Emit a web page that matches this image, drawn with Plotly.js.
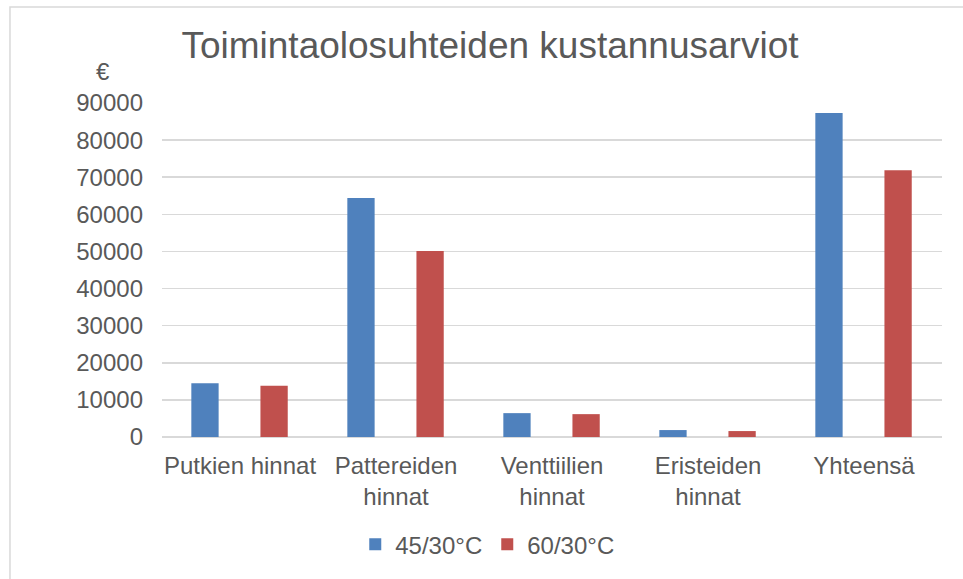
<!DOCTYPE html>
<html>
<head>
<meta charset="utf-8">
<script src="https://cdn.plot.ly/plotly-3.0.1.min.js"></script>
<style>html,body{margin:0;padding:0;background:#fff;}#chart{width:963px;height:579px;}</style>
</head>
<body>
<div id="chart"></div>
<script>
const categories = ["Putkien hinnat", "Pattereiden<br>hinnat", "Venttiilien<br>hinnat", "Eristeiden<br>hinnat", "Yhteensä"];
const seriesNames = ["45/30°C", "60/30°C"];
const values4530 = [14500, 64400, 6430, 1870, 87300];
const values6030 = [13800, 50100, 6160, 1600, 71900];
const yTicks = [0, 10000, 20000, 30000, 40000, 50000, 60000, 70000, 80000, 90000];
const titleText = "Toimintaolosuhteiden kustannusarviot";
const unitLabel = "€";

const FONT = "Liberation Sans, Arial, sans-serif";
const TXT = "#595959";

const traces = [
  {type: "bar", name: seriesNames[0], x: categories, y: values4530,
   offset: -0.312, width: 0.175, marker: {color: "#4F81BD", opacity: 1, line: {width: 0}}},
  {type: "bar", name: seriesNames[1], x: categories, y: values6030,
   offset: 0.131, width: 0.175, marker: {color: "#C0504D", opacity: 1, line: {width: 0}}}
];

const layout = {
  width: 963, height: 579,
  margin: {l: 162, r: 21, t: 103, b: 142},
  paper_bgcolor: "#ffffff", plot_bgcolor: "#ffffff",
  font: {family: FONT, color: TXT, size: 24},
  barmode: "overlay",
  showlegend: true,
  title: {text: titleText, font: {family: FONT, size: 37, color: TXT},
          xref: "paper", x: 0.4205, xanchor: "center",
          yref: "container", y: 0.922, yanchor: "middle"},
  xaxis: {type: "category", showgrid: false, zeroline: false, showline: false,
          ticks: "", tickfont: {size: 24, color: TXT, family: FONT},
          ticklabelstandoff: 12, fixedrange: true},
  yaxis: {range: [0, 90000], tickvals: yTicks, ticktext: yTicks.map(String),
          showgrid: true, gridcolor: "#D9D9D9", gridwidth: 1.5,
          zeroline: true, zerolinecolor: "#D9D9D9", zerolinewidth: 1.5,
          showline: false, ticks: "", tickfont: {size: 24, color: TXT, family: FONT},
          ticklabelstandoff: 18, fixedrange: true},
  legend: {orientation: "h", x: 0.4170, xanchor: "center", y: -0.3225, yanchor: "middle",
           font: {size: 24, color: TXT, family: FONT}, itemwidth: 30, traceorder: "normal"},
  annotations: [
    {text: unitLabel, xref: "paper", yref: "paper", x: -0.0756, y: 1.0947,
     xanchor: "center", yanchor: "middle", showarrow: false,
     font: {size: 24, color: TXT, family: FONT}}
  ],
  shapes: [
    {type: "rect", xref: "paper", yref: "paper", x0: -0.1949, y0: 1.2875, x1: 1.036, y1: -0.456,
     line: {color: "#D9D9D9", width: 1.5}, fillcolor: "rgba(0,0,0,0)", layer: "below"}
  ]
};

Plotly.newPlot("chart", traces, layout, {displayModeBar: false, staticPlot: true});
</script>
</body>
</html>
